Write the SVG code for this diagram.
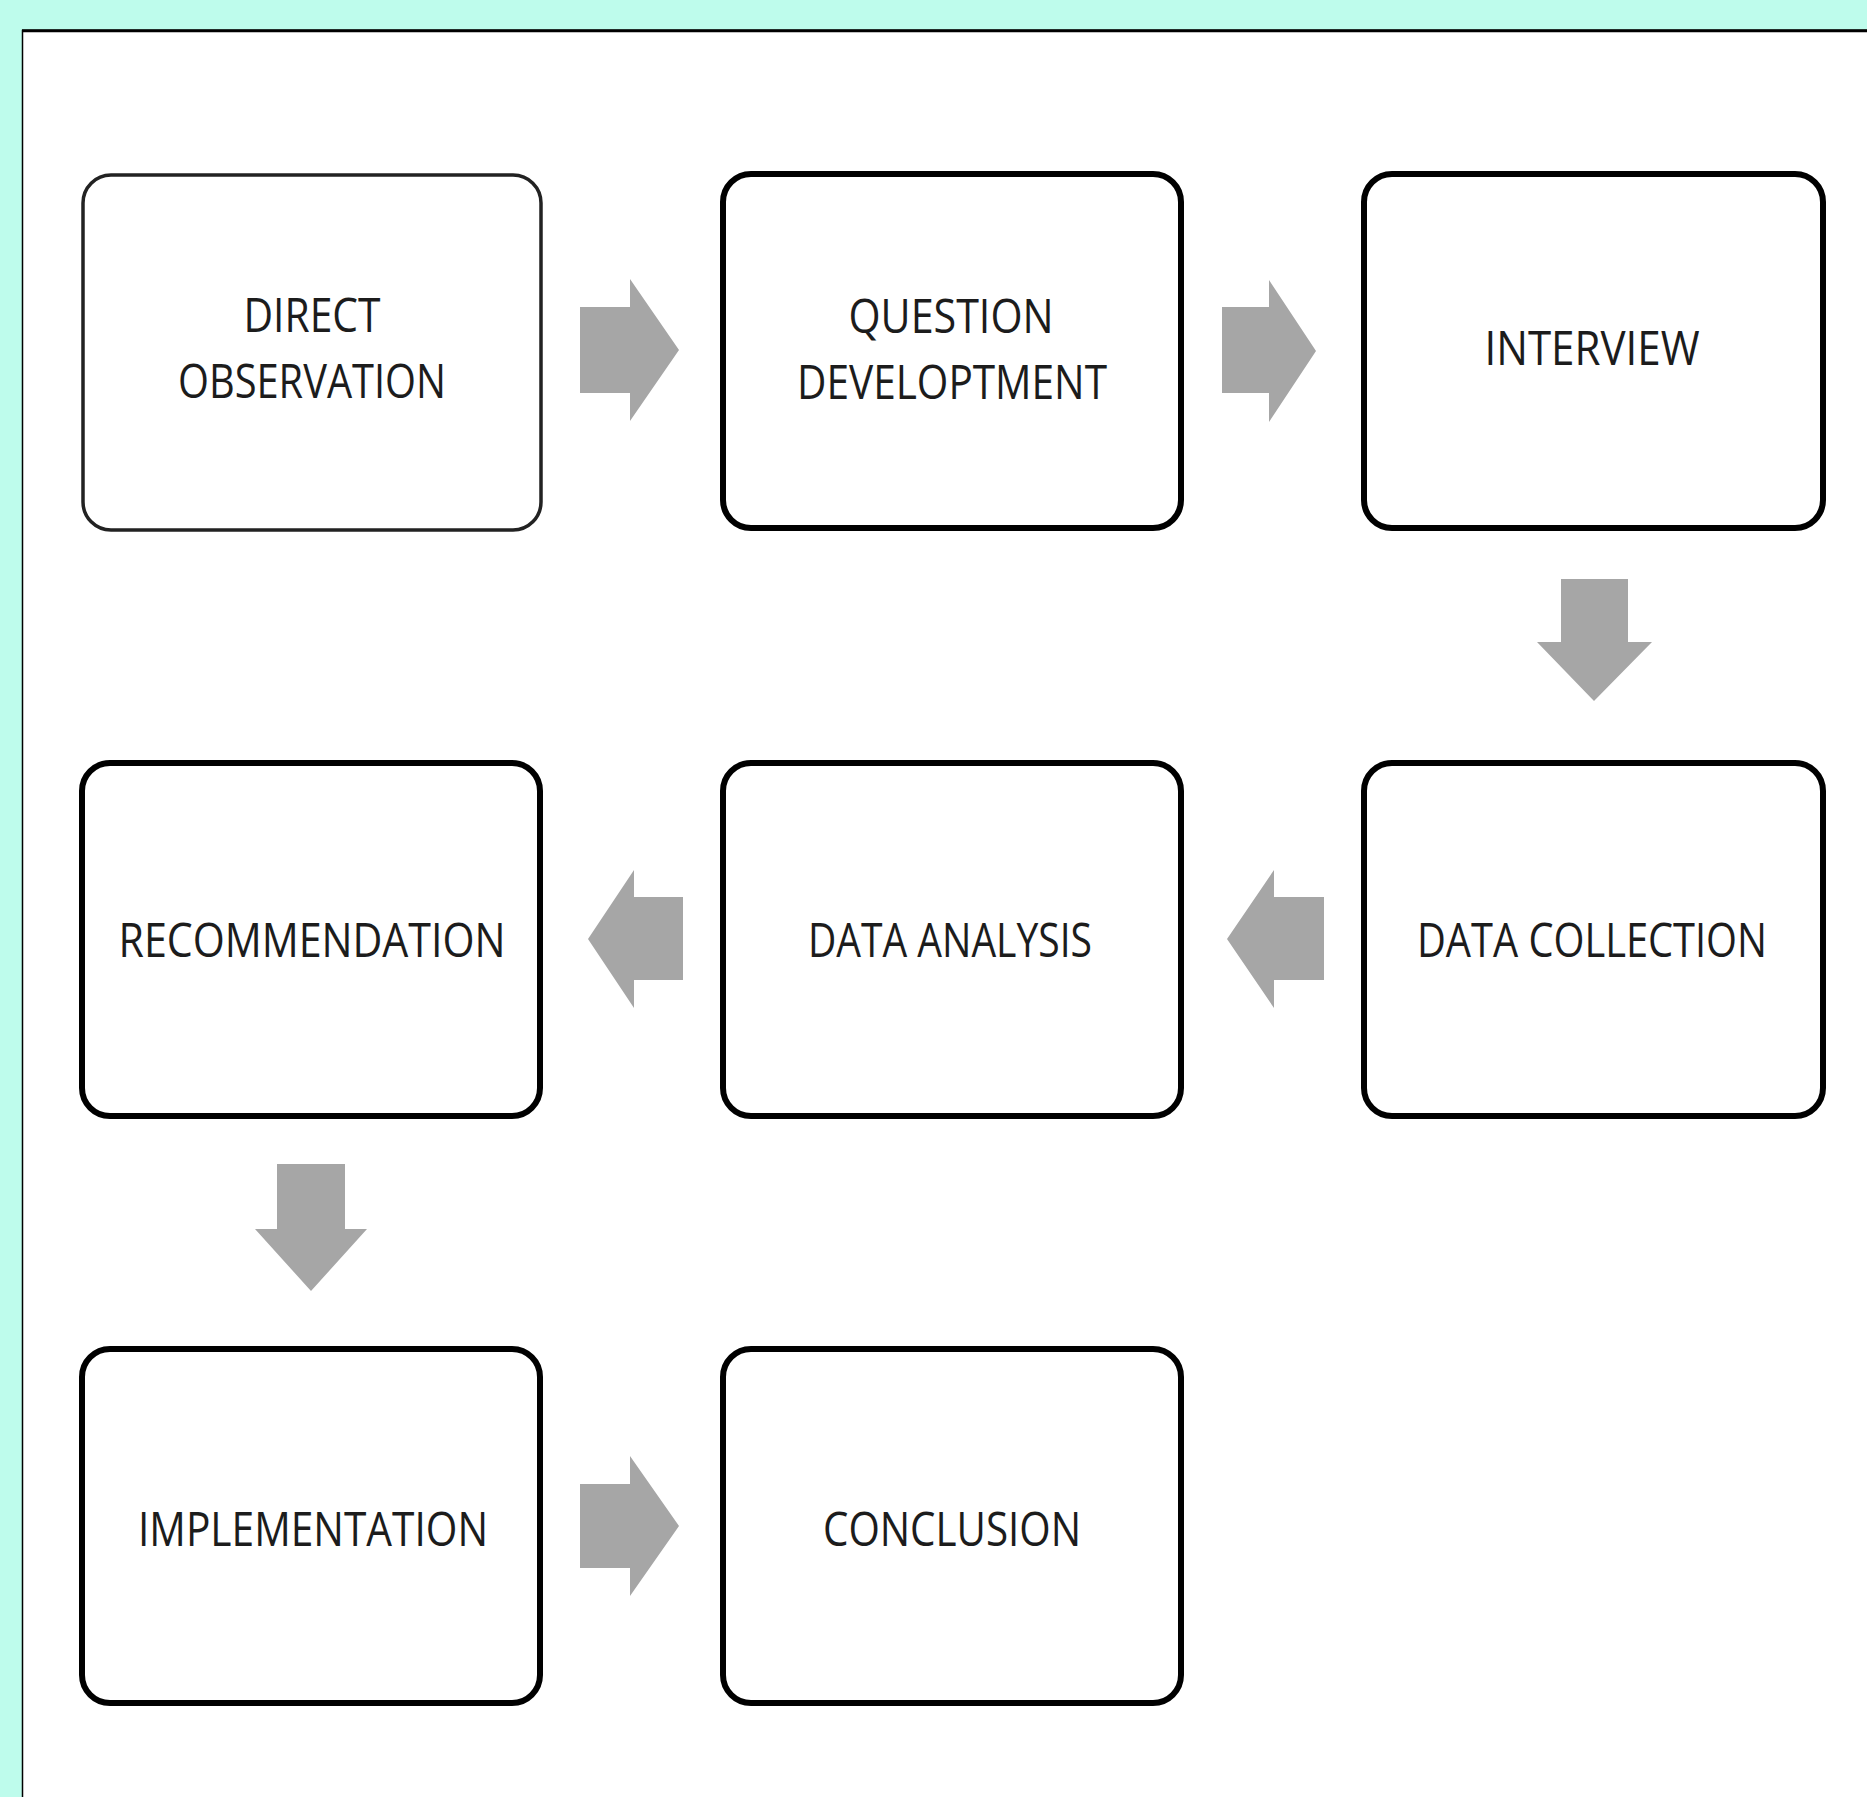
<svg xmlns="http://www.w3.org/2000/svg" width="1867" height="1797" viewBox="0 0 1867 1797">
<style>
.node rect{fill:#ffffff;stroke:#000000;stroke-width:6}
.node.thin rect{stroke:#222222;stroke-width:3.5}
.node text{font-family:"Open Sans","Noto Sans","Liberation Sans",sans-serif;font-size:48px;fill:#1c1c1c;text-anchor:middle}
.arrow{fill:#a6a6a6}
</style>
<rect x="0" y="0" width="1867" height="1797" fill="#befcec"/>
<rect x="22.5" y="30.5" width="1850" height="1770" fill="#ffffff" stroke="#000000" stroke-width="1.5"/>
<line x1="22" y1="30.8" x2="1867" y2="30.8" stroke="#000000" stroke-width="3"/>

<g id="node-direct-observation" class="node thin">
<rect x="83" y="175" width="458" height="355" rx="28"/>
<text x="312" y="332" textLength="137" lengthAdjust="spacingAndGlyphs">DIRECT</text>
<text x="312" y="398" textLength="268" lengthAdjust="spacingAndGlyphs">OBSERVATION</text>
</g>
<g id="node-question-development" class="node">
<rect x="723" y="174" width="458" height="354" rx="28"/>
<text x="951" y="333" textLength="205" lengthAdjust="spacingAndGlyphs">QUESTION</text>
<text x="952" y="399" textLength="310" lengthAdjust="spacingAndGlyphs">DEVELOPTMENT</text>
</g>
<g id="node-interview" class="node">
<rect x="1364" y="174" width="459" height="354" rx="28"/>
<text x="1592" y="365" textLength="215" lengthAdjust="spacingAndGlyphs">INTERVIEW</text>
</g>
<g id="node-data-collection" class="node">
<rect x="1364" y="763" width="459" height="353" rx="28"/>
<text x="1592" y="957" textLength="350" lengthAdjust="spacingAndGlyphs">DATA COLLECTION</text>
</g>
<g id="node-data-analysis" class="node">
<rect x="723" y="763" width="458" height="353" rx="28"/>
<text x="950" y="957" textLength="284" lengthAdjust="spacingAndGlyphs">DATA ANALYSIS</text>
</g>
<g id="node-recommendation" class="node">
<rect x="82" y="763" width="458" height="353" rx="28"/>
<text x="312" y="957" textLength="387" lengthAdjust="spacingAndGlyphs">RECOMMENDATION</text>
</g>
<g id="node-implementation" class="node">
<rect x="82" y="1349" width="458" height="354" rx="28"/>
<text x="313" y="1546" textLength="350" lengthAdjust="spacingAndGlyphs">IMPLEMENTATION</text>
</g>
<g id="node-conclusion" class="node">
<rect x="723" y="1349" width="458" height="354" rx="28"/>
<text x="952" y="1546" textLength="258" lengthAdjust="spacingAndGlyphs">CONCLUSION</text>
</g>

<g id="connectors">
<polygon class="arrow" points="580,307 630,307 630,279 679,350 630,421 630,393 580,393"/>
<polygon class="arrow" points="1222,307 1269,307 1269,280 1316,351 1269,422 1269,393 1222,393"/>
<polygon class="arrow" points="1561,579 1628,579 1628,642 1652,642 1594,701 1537,642 1561,642"/>
<polygon class="arrow" points="683,897 634,897 634,870 588,939 634,1008 634,980 683,980"/>
<polygon class="arrow" points="1324,897 1274,897 1274,870 1227,939 1274,1008 1274,980 1324,980"/>
<polygon class="arrow" points="277,1164 345,1164 345,1229 367,1229 311,1291 255,1229 277,1229"/>
<polygon class="arrow" points="580,1484 630,1484 630,1456 679,1526 630,1596 630,1568 580,1568"/>
</g>
</svg>
